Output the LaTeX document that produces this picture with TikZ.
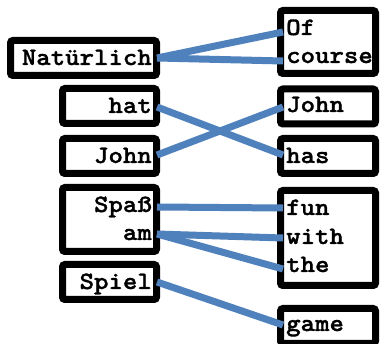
\documentclass[tikz,border=0pt]{standalone}
\usepackage{fontspec}
% slab-serif typewriter face, widened to a 0.6em pitch
\newfontfamily\wordfont{lmmonolt10-bold.otf}[FakeStretch=1.1,FakeBold=1.2]
\definecolor{linkblue}{HTML}{4F81BD}
\begin{document}
\begin{tikzpicture}[x=1pt,y=-1pt,
  box/.style={draw=black,line width=7pt,rounded corners=2.5pt,inner sep=0pt},
  word/.style={font=\fontsize{25}{29}\selectfont\wordfont,inner sep=0pt},
  lword/.style={word,anchor=base east},
  rword/.style={word,anchor=base west},
  link/.style={draw=linkblue,line width=7pt}]
\fill[white] (0,0) rectangle (380,344);
\useasboundingbox (0,0) rectangle (380,344);

% German side
\node[box,minimum width=146,minimum height=35] (b-nat)   at (83.5,58)   {};
\node[box,minimum width=94, minimum height=35] (b-hat)   at (109.5,106) {};
\node[box,minimum width=94, minimum height=35] (b-john)  at (109.5,156) {};
\node[box,minimum width=94, minimum height=64] (b-spass) at (109.5,219.5) {};
\node[box,minimum width=94, minimum height=35] (b-spiel) at (109.5,282) {};

% English side
\node[box,minimum width=95,minimum height=63] (e-ofc)  at (328,42)  {};
\node[box,minimum width=95,minimum height=35] (e-john) at (328,106.5) {};
\node[box,minimum width=95,minimum height=35] (e-has)  at (328,156) {};
\node[box,minimum width=95,minimum height=95] (e-fun)  at (328,238) {};
\node[box,minimum width=95,minimum height=35] (e-game) at (328,326) {};

% words
\node[lword] (natuerlich) at (152,65)  {Natürlich};
\node[lword] (hat)        at (152,113) {hat};
\node[lword] (johnde)     at (152,163) {John};
\node[lword] (spass)      at (152,212) {Spaß};
\node[lword] (am)         at (152,240) {am};
\node[lword] (spiel)      at (152,289) {Spiel};

\node[rword] (of)     at (286,35)  {Of};
\node[rword] (course) at (286,63)  {course};
\node[rword] (johnen) at (286,112) {John};
\node[rword] (has)    at (286,163) {has};
\node[rword] (fun)    at (286,215) {fun};
\node[rword] (with)   at (286,244) {with};
\node[rword] (the)    at (286,272) {the};
\node[rword] (game)   at (286,331) {game};

% attachment points on the word edges
\coordinate (p-nat)    at (157,58);
\coordinate (p-hat)    at (157,107);
\coordinate (p-johnde) at (157,155);
\coordinate (p-spass)  at (157,207);
\coordinate (p-am)     at (157,234);
\coordinate (p-spiel)  at (157,282);

\coordinate (p-of)     at (283,32);
\coordinate (p-course) at (283,61);
\coordinate (p-johnen) at (283,107);
\coordinate (p-has)    at (283,155);
\coordinate (p-fun)    at (283,208);
\coordinate (p-with)   at (283,238);
\coordinate (p-the)    at (283,269);
\coordinate (p-game)   at (283,325);

% alignment links
\draw[link] (p-nat) -- (p-of);
\draw[link] (p-nat) -- (p-course);
\draw[link] (p-hat) -- (p-has);
\draw[link] (p-johnde) -- (p-johnen);
\draw[link] (p-spass) -- (p-fun);
\draw[link] (p-am) -- (p-with);
\draw[link] (p-am) -- (p-the);
\draw[link] (p-spiel) -- (p-game);
\end{tikzpicture}
\end{document}
